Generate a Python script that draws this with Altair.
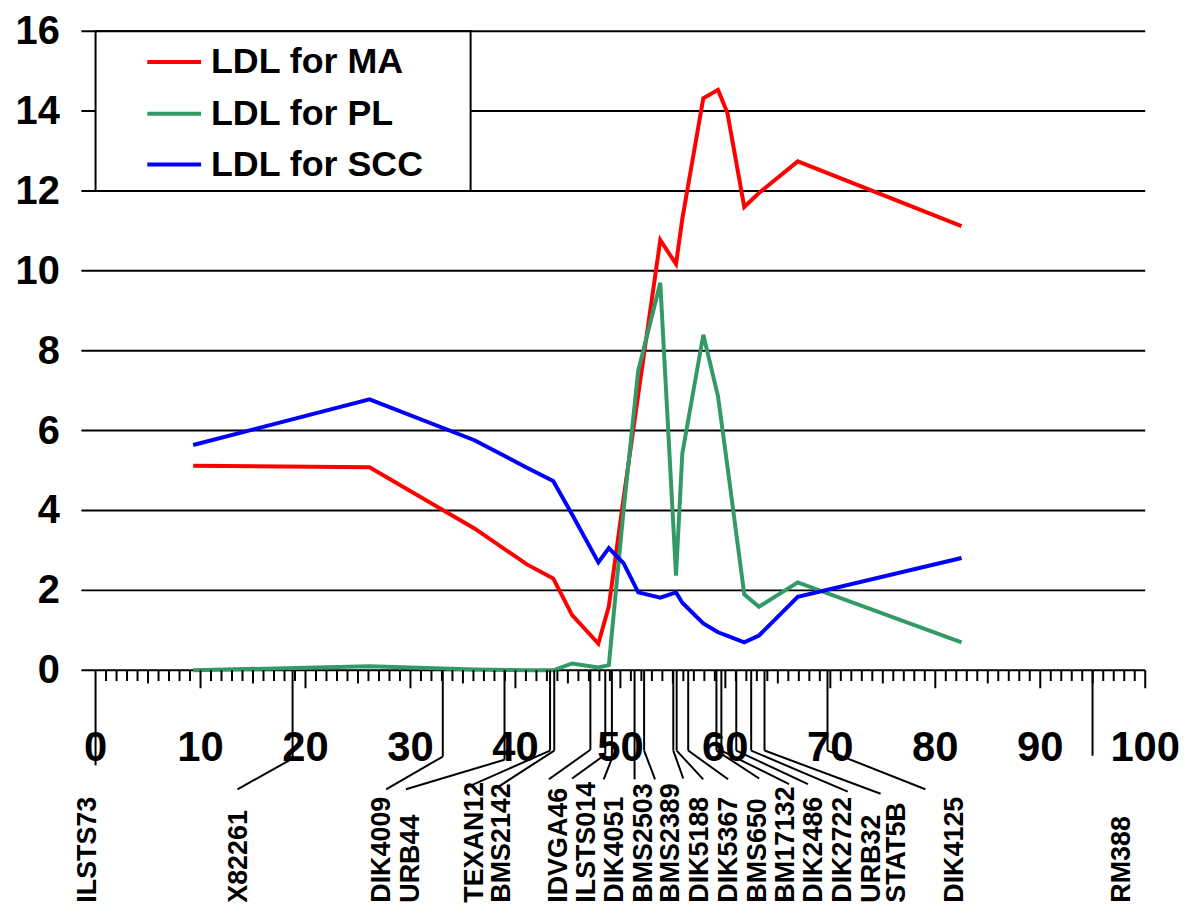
import altair as alt
import pandas as pd

# ---------------- data ----------------
series_names = ["LDL for MA", "LDL for PL", "LDL for SCC"]
series_colors = ["#FF0000", "#339966", "#0000FF"]

positions = [9.3, 26.1, 36.1, 41.1, 43.6, 45.4, 47.9, 48.9, 50.3, 51.7,
             53.8, 55.3, 55.9, 57.9, 59.3, 60.2, 61.8, 63.2, 66.9, 82.5]
ldl_ma = [5.12, 5.08, 3.55, 2.65, 2.30, 1.38, 0.67, 1.60, 4.30, 6.90,
          10.77, 10.17, 11.30, 14.32, 14.53, 13.95, 11.60, 11.95, 12.74, 11.12]
ldl_pl = [0.00, 0.10, 0.02, 0.00, 0.00, 0.17, 0.07, 0.13, 4.00, 7.50,
          9.70, 2.37, 5.43, 8.40, 6.86, 5.10, 1.90, 1.59, 2.20, 0.70]
ldl_scc = [5.64, 6.78, 5.76, 5.07, 4.74, 3.90, 2.70, 3.06, 2.68, 1.95,
           1.82, 1.95, 1.69, 1.17, 0.95, 0.86, 0.70, 0.87, 1.84, 2.81]

markers = ["ILSTS73", "X82261", "DIK4009", "URB44", "TEXAN12", "BMS2142",
           "IDVGA46", "ILSTS014", "DIK4051", "BMS2503", "BMS2389", "DIK5188",
           "DIK5367", "BMS650", "BM17132", "DIK2486", "DIK2722", "URB32",
           "STAT5B", "DIK4125", "RM388"]
marker_pos = [0.0, 18.77, 33.08, 38.96, 43.3, 43.7, 47.14, 48.56, 49.19, 51.35,
              52.26, 55.04, 55.36, 56.46, 59.15, 59.62, 61.04, 62.46, 63.73,
              69.73, 94.98]
stem_end = [-2.38, -2.21, -2.16, -2.24, -2.01, -2.01, -1.99, -2.11, -2.21, -2.73,
            -2.01, -2.01, -2.01, -2.01, -2.01, -2.01, -2.01, -2.01, -2.01,
            -2.01, -2.14]
leader_x = [0.0, 13.52, 27.68, 29.57, 35.36, 38.29, 43.19, 45.4, 48.41, 51.35,
            53.3, 55.99, 57.89, 60.26, 63.22, 66.07, 67.87, 71.66, 74.79,
            79.05, 94.98]
leader_y = [-2.38, -2.98, -2.98, -2.98, -2.93, -2.93, -2.73, -2.71, -2.73, -2.73,
            -2.73, -2.71, -2.73, -2.73, -2.71, -2.85, -2.85, -3.04, -3.09,
            -2.98, -2.14]
label_x = [-0.76, 13.65, 27.3, 30.05, 36.11, 38.77, 44.17, 46.82, 49.48, 52.23,
           54.79, 57.63, 60.38, 63.13, 65.78, 68.44, 71.18, 73.93, 76.4,
           81.9, 97.82]

x_tick_labels = [0, 10, 20, 30, 40, 50, 60, 70, 80, 90, 100]
y_tick_values = [0, 2, 4, 6, 8, 10, 12, 14, 16]
minor_ticks = list(range(1, 101))

# ---------------- tables ----------------
lines_df = pd.DataFrame({
    "pos": positions * 3,
    "value": ldl_ma + ldl_pl + ldl_scc,
    "series": [series_names[0]] * len(positions)
    + [series_names[1]] * len(positions)
    + [series_names[2]] * len(positions),
})
mk_df = pd.DataFrame({
    "name": markers, "pos": marker_pos, "stem": stem_end,
    "lx": leader_x, "ly": leader_y, "tx": label_x,
})
tick_df = pd.DataFrame({
    "pos": minor_ticks,
    "len": [-0.45 if p % 10 == 0 else (-0.33 if p % 5 == 0 else -0.27) for p in minor_ticks],
})
xl_df = pd.DataFrame({"pos": x_tick_labels, "lab": [str(v) for v in x_tick_labels]})
yl_df = pd.DataFrame({"val": y_tick_values, "lab": [str(v) for v in y_tick_values]})
leg_df = pd.DataFrame({"series": series_names, "y": [15.23, 13.93, 12.66]})
box_df = pd.DataFrame({"x0": [0.0], "x1": [35.73], "y0": [12.0], "y1": [16.0]})

Y_DOM = [-5.82, 16]
FONT = "Liberation Sans"

XS = alt.Scale(domain=[0, 100], nice=False, zero=False)
YS = alt.Scale(domain=Y_DOM, nice=False, zero=False)


def X(field):
    return alt.X(f"{field}:Q", scale=XS, axis=None)


def Y(field):
    return alt.Y(f"{field}:Q", scale=YS, axis=None)


color = alt.Color("series:N", scale=alt.Scale(domain=series_names, range=series_colors), legend=None)

# horizontal grid lines (value axis), extending a little left as tick marks
grid = alt.Chart(yl_df).transform_calculate(a="-1.35", b="100").mark_rule(
    color="black", strokeWidth=2).encode(x=X("a"), x2="b:Q", y=Y("val"))

ylabels = alt.Chart(yl_df).transform_calculate(a="-3.4").mark_text(
    font=FONT, fontSize=40, fontWeight="bold", color="black",
    align="right", baseline="middle", dy=1).encode(x=X("a"), y=Y("val"), text="lab:N")

series = alt.Chart(lines_df).mark_line(strokeWidth=4).encode(
    x=X("pos"), y=Y("value"), color=color, detail="series:N")

ticks = alt.Chart(tick_df).transform_calculate(zero="0").mark_rule(
    color="black", strokeWidth=2).encode(x=X("pos"), y=Y("len"), y2="zero:Q")

xlabels = alt.Chart(xl_df).transform_calculate(ly="-2.26").mark_text(
    font=FONT, fontSize=42, fontWeight="bold", color="black",
    align="center", baseline="alphabetic").encode(x=X("pos"), y=Y("ly"), text="lab:N")

stems = alt.Chart(mk_df).transform_calculate(zero="0").mark_rule(
    color="black", strokeWidth=2).encode(x=X("pos"), y=Y("zero"), y2="stem:Q")

leaders = alt.Chart(mk_df).mark_rule(color="black", strokeWidth=2).encode(
    x=X("pos"), y=Y("stem"), x2="lx:Q", y2="ly:Q")

mlabels = alt.Chart(mk_df).transform_calculate(by="-5.82").mark_text(
    font=FONT, fontSize=27, fontWeight="bold", color="black",
    angle=270, align="left", baseline="middle").encode(x=X("tx"), y=Y("by"), text="name:N")

legend_box = alt.Chart(box_df).mark_rect(fill="white", stroke="black", strokeWidth=2).encode(
    x=X("x0"), x2="x1:Q", y=Y("y0"), y2="y1:Q")

legend_lines = alt.Chart(leg_df).transform_calculate(a="4.93", b="10.05").mark_rule(
    strokeWidth=4).encode(x=X("a"), x2="b:Q", y=Y("y"), color=color)

legend_text = alt.Chart(leg_df).transform_calculate(a="10.99").mark_text(
    font=FONT, fontSize=36, fontWeight="bold", color="black",
    align="left", baseline="middle").encode(x=X("a"), y=Y("y"), text="series:N")

chart = alt.layer(
    grid, ylabels, series, legend_box, ticks, stems, leaders, mlabels, xlabels,
    legend_lines, legend_text,
).properties(
    width=1055, height=876,
    padding={"left": 88, "top": 21, "right": 45, "bottom": 2},
    autosize=alt.AutoSizeParams(type="none"),
    background="white",
).configure_view(stroke=None)

chart.save("out.html", embed_options={"renderer": "svg", "actions": False})
